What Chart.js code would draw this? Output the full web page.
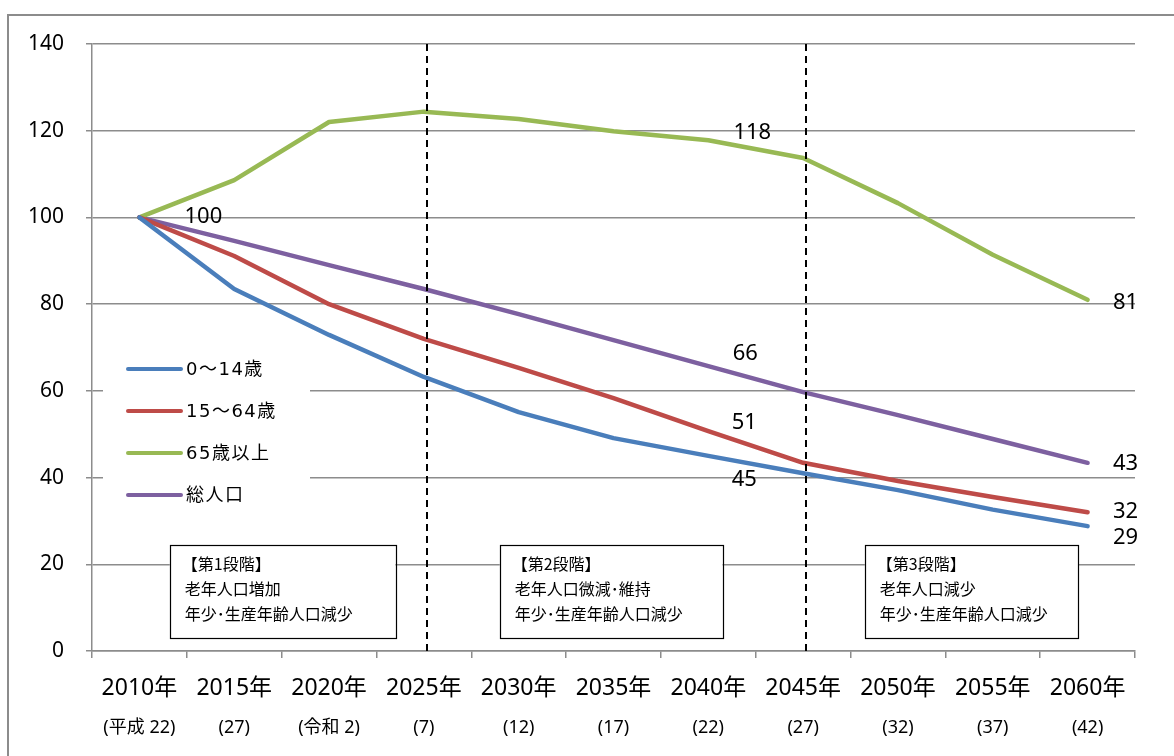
<!DOCTYPE html>
<html><head><meta charset="utf-8">
<script src="https://cdn.jsdelivr.net/npm/chart.js@4/dist/chart.umd.min.js"></script>
<style>
html,body{margin:0;padding:0;background:#fff;overflow:hidden}
#wrap{position:absolute;left:0;top:0;width:1174px;height:756px}
#frame{position:absolute;left:7px;top:14px;width:1180px;height:760px;border:2px solid #8c8c8c;box-sizing:border-box}
canvas{position:absolute;left:0;top:0}
</style></head>
<body>
<div id="wrap"><div id="frame"></div><canvas id="c" width="1174" height="756"></canvas></div>
<script>
const years = ["2010年","2015年","2020年","2025年","2030年","2035年","2040年","2045年","2050年","2055年","2060年"];
const eras = ["(平成 22)","(27)","(令和 2)","(7)","(12)","(17)","(22)","(27)","(32)","(37)","(42)"];
const seriesNames = ["0～14歳","15～64歳","65歳以上","総人口"];
const young   = [100, 83.5, 72.9, 63.2, 55.1, 49.1, 45.0, 41.0, 37.1, 32.6, 28.8];
const working = [100, 91.1, 80.0, 72.0, 65.3, 58.3, 50.7, 43.4, 39.2, 35.5, 32.0];
const elderly = [100, 108.6, 122.0, 124.4, 122.7, 119.9, 117.8, 113.7, 103.3, 91.4, 81.0];
const total   = [100, 94.6, 89.0, 83.5, 77.7, 71.7, 65.7, 59.7, 54.4, 48.9, 43.4];
const yTicks = [0, 20, 40, 60, 80, 100, 120, 140];
const phaseLines = [3, 7];
const phaseBoxes = [
  {from: 0.32, to: 2.7, lines: ["【第1段階】","老年人口増加","年少･生産年齢人口減少"]},
  {from: 3.8, to: 6.15, lines: ["【第2段階】","老年人口微減･維持","年少･生産年齢人口減少"]},
  {from: 7.65, to: 9.9, lines: ["【第3段階】","老年人口減少","年少･生産年齢人口減少"]}
];
// value annotations: [series index, category index, text, dx, dy]
const annotations = [
  [2, 0, "100", 64, -1],
  [2, 6, "118", 44, -8],
  [3, 6, "66", 37, -12],
  [1, 6, "51", 36, -8],
  [0, 6, "45", 36, 24],
  [2, 10, "81", 38, 3],
  [3, 10, "43", 38, 1],
  [1, 10, "32", 38, -1],
  [0, 10, "29", 38, 12]
];
const colors = ["#4a7ebb", "#be4b48", "#98b954", "#7d60a0"];
const allData = [young, working, elderly, total];
const numFont = '"Noto Sans","Noto Sans CJK JP",sans-serif';
const jpFont = '"Noto Sans CJK JP",sans-serif';
const legendFont = '"DejaVu Sans","Noto Sans CJK JP",sans-serif';

const overlay = {
  id: 'overlay',
  beforeDatasetsDraw(chart) {
    const ctx = chart.ctx, x = chart.scales.x, y = chart.scales.y;
    ctx.save();
    // legend backdrop
    ctx.fillStyle = '#fff';
    ctx.fillRect(103, 348, 207, 167);
    const rows = [369, 411, 453, 495];
    seriesNames.forEach((n, i) => {
      ctx.strokeStyle = colors[i]; ctx.lineWidth = 4; ctx.lineCap = 'round';
      ctx.beginPath(); ctx.moveTo(128, rows[i]); ctx.lineTo(181, rows[i]); ctx.stroke();
      ctx.fillStyle = '#000'; ctx.font = '18px ' + legendFont; ctx.textBaseline = 'middle'; ctx.textAlign = 'left';
      ctx.letterSpacing = '1.5px';
      ctx.fillText(n, 186, rows[i] + 1);
      ctx.letterSpacing = '0px';
    });
    // phase boxes
    const step = x.getPixelForValue(1) - x.getPixelForValue(0);
    phaseBoxes.forEach(b => {
      const l = x.getPixelForValue(0) + b.from * step;
      const r = x.getPixelForValue(0) + b.to * step;
      const top = 545, bot = 638;
      ctx.fillStyle = '#fff'; ctx.fillRect(l, top, r - l, bot - top);
      ctx.strokeStyle = '#000'; ctx.lineWidth = 1.2; ctx.lineCap = 'butt';
      ctx.strokeRect(Math.round(l) + 0.5, top + 0.5, Math.round(r - l), bot - top);
      ctx.fillStyle = '#000'; ctx.font = '16px ' + jpFont; ctx.textAlign = 'left'; ctx.textBaseline = 'middle';
      b.lines.forEach((t, k) => ctx.fillText(t, l + (k === 0 ? 12 : 15), 564 + k * 25));
    });
    ctx.restore();
  },
  afterDatasetsDraw(chart) {
    const ctx = chart.ctx, x = chart.scales.x, y = chart.scales.y;
    ctx.save();
    ctx.strokeStyle = '#000'; ctx.lineWidth = 2; ctx.setLineDash([7, 5]);
    phaseLines.forEach(i => {
      const px = Math.round(x.getPixelForValue(i)) + 3;
      ctx.beginPath(); ctx.moveTo(px, y.top); ctx.lineTo(px, y.bottom); ctx.stroke();
    });
    ctx.setLineDash([]);
    ctx.fillStyle = '#000'; ctx.font = '22px ' + numFont; ctx.textAlign = 'center'; ctx.textBaseline = 'middle';
    annotations.forEach(([s, c, t, dx, dy]) => {
      ctx.fillText(t, x.getPixelForValue(c) + dx, y.getPixelForValue(allData[s][c]) + dy);
    });
    ctx.restore();
  }
};

new Chart(document.getElementById('c'), {
  type: 'line',
  data: {
    labels: years,
    datasets: seriesNames.map((n, i) => ({
      label: n, data: allData[i], borderColor: colors[i], backgroundColor: colors[i],
      borderWidth: 4.5, pointRadius: 0, tension: 0, borderCapStyle: 'round', borderJoinStyle: 'round',
      xAxisID: 'x', yAxisID: 'y'
    }))
  },
  options: {
    responsive: false, animation: false, devicePixelRatio: 1,
    layout: {padding: {top: 44, right: 39, left: 0, bottom: 0}},
    plugins: {legend: {display: false}, tooltip: {enabled: false}, title: {display: false}},
    scales: {
      y: {
        min: 0, max: 140,
        afterBuildTicks: s => { s.ticks = yTicks.map(v => ({value: v})); },
        afterFit: s => { s.width = 92; },
        grid: {color: '#8c8c8c', lineWidth: 1.5, tickLength: 6, drawTicks: true},
        border: {color: '#8c8c8c', width: 1.5},
        ticks: {color: '#000', font: {family: numFont, size: 21}, padding: 22}
      },
      x: {
        type: 'category', position: 'bottom', offset: true,
        afterFit: s => { s.height = 58; },
        grid: {drawOnChartArea: false, drawTicks: true, tickLength: 7, color: '#8c8c8c', offset: true, lineWidth: 1.5},
        border: {color: '#8c8c8c', width: 1.5},
        ticks: {color: '#000', font: {family: numFont, size: 23}, padding: 17, maxRotation: 0, autoSkip: false}
      },
      x2: {
        type: 'category', position: 'bottom', offset: true, labels: eras,
        afterFit: s => { s.height = 47; },
        grid: {display: false}, border: {display: false},
        ticks: {color: '#000', font: {family: numFont, size: 18}, padding: 0, maxRotation: 0, autoSkip: false}
      }
    }
  },
  plugins: [overlay]
});
</script>
</body></html>
